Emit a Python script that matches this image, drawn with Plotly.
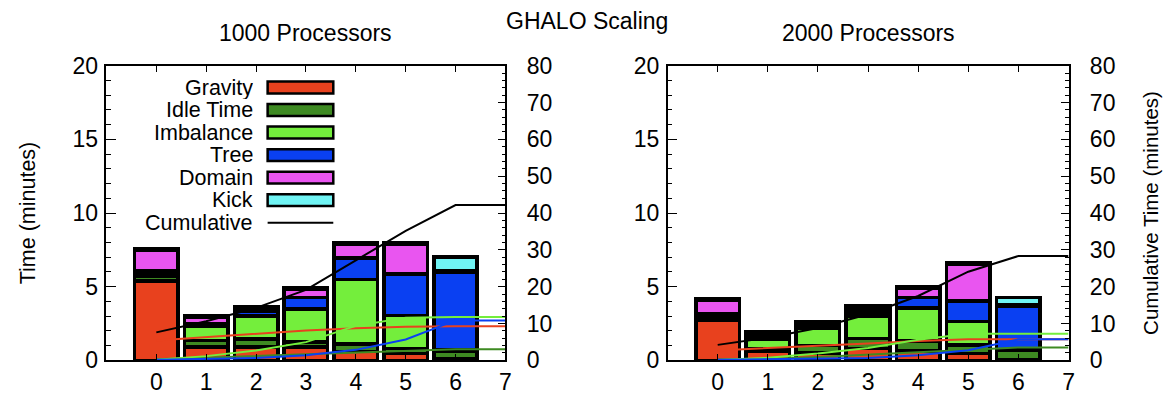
import numpy as np
import plotly.graph_objects as go
from plotly.subplots import make_subplots

# ---------------- data ----------------
steps = [0, 1, 2, 3, 4, 5, 6]
components = ["Gravity", "Idle Time", "Imbalance", "Tree", "Domain", "Kick"]
comp_colors = ["#E8411E", "#3E8A22", "#74EE3C", "#0A40F2", "#E955F0", "#70F4F4"]

# 1000 processors (minutes)
p1000_gravity = [5.4, 0.9, 0.9, 0.9, 0.6, 0.45, 0.1]
p1000_idle = [0.3, 0.45, 0.55, 0.35, 0.5, 0.35, 0.5]
p1000_imbalance = [0.2, 0.95, 1.55, 2.25, 4.4, 2.25, 0.15]
p1000_tree = [0.15, 0.2, 0.3, 0.75, 1.45, 2.8, 5.2]
p1000_domain = [1.45, 0.45, 0.15, 0.55, 0.95, 2.0, 0.1]
p1000_kick = [0.1, 0.05, 0.2, 0.1, 0.1, 0.15, 0.95]

# 2000 processors (minutes)
p2000_gravity = [2.7, 0.6, 0.5, 0.8, 0.65, 0.45, 0.05]
p2000_idle = [0.2, 0.2, 0.5, 0.7, 0.65, 0.6, 0.65]
p2000_imbalance = [0.1, 0.6, 1.15, 1.5, 2.25, 1.6, 0.05]
p2000_tree = [0.15, 0.15, 0.1, 0.27, 0.72, 1.37, 2.95]
p2000_domain = [0.95, 0.2, 0.2, 0.3, 0.6, 2.5, 0.05]
p2000_kick = [0.1, 0.18, 0.2, 0.15, 0.1, 0.08, 0.5]

x_ticks = [0, 1, 2, 3, 4, 5, 6, 7]
y_ticks_left = [0, 5, 10, 15, 20]
y_ticks_right = [0, 10, 20, 30, 40, 50, 60, 70, 80]

panels = [
    ("1000 Processors", [p1000_gravity, p1000_idle, p1000_imbalance, p1000_tree, p1000_domain, p1000_kick]),
    ("2000 Processors", [p2000_gravity, p2000_idle, p2000_imbalance, p2000_tree, p2000_domain, p2000_kick]),
]
cum_components = [0, 1, 2, 3]  # components that get a cumulative line

FONT = "Liberation Sans, Arial, Helvetica, sans-serif"
FS = 23
FS_KEY = 21.5
FS_AX = 21.5
FS_AX2 = 20.5

fig = make_subplots(rows=1, cols=2, specs=[[{"secondary_y": True}, {"secondary_y": True}]])

for col, (title, series) in enumerate(panels, start=1):
    for name, vals, c in zip(components, series, comp_colors):
        fig.add_trace(go.Bar(x=steps, y=vals, name=name, width=0.87,
                             marker=dict(color=c, line=dict(color="black", width=3.5)),
                             showlegend=False),
                      row=1, col=col, secondary_y=False)
    line_x = steps + [steps[-1] + 1]
    for i in cum_components:
        cum = list(np.cumsum(series[i]))
        fig.add_trace(go.Scatter(x=line_x, y=cum + [cum[-1]], mode="lines",
                                 line=dict(color=comp_colors[i], width=2), showlegend=False),
                      row=1, col=col, secondary_y=True)
    total = list(np.cumsum(np.sum(np.array(series), axis=0)))
    fig.add_trace(go.Scatter(x=line_x, y=total + [total[-1]], mode="lines",
                             line=dict(color="black", width=2), showlegend=False),
                  row=1, col=col, secondary_y=True)

W, H = 1176, 395
# the rendered page is compressed vertically; map target pixel rows to requested rows
def req_y(p): return (p - 11.9) / 0.939
def px_x(p): return p / W
def px_y(p): return (H - req_y(p)) / H

dom_y = [px_y(362), px_y(65)]
dom_x1 = [px_x(107), px_x(508)]
dom_x2 = [px_x(671), px_x(1074)]

axis_common = dict(showline=True, linecolor="black", linewidth=1.5, showgrid=False, zeroline=False,
                   tickfont=dict(family=FONT, size=FS, color="black"), ticks="inside",
                   tickcolor="black")

xa = dict(axis_common, range=[-1, 7], tickvals=x_ticks, ticklen=7, mirror="ticks")
yl = dict(axis_common, range=[0, 20], tickvals=y_ticks_left, ticklen=10, ticklabelstandoff=2,
          minor=dict(dtick=1, ticks="inside", ticklen=5, tickcolor="black"))
yr = dict(axis_common, range=[0, 80], tickvals=y_ticks_right, ticklen=8, ticklabelstandoff=15,
          minor=dict(dtick=2, ticks="inside", ticklen=4, tickcolor="black"))

fig.update_layout(
    width=W, height=H, margin=dict(l=0, r=0, t=0, b=0),
    paper_bgcolor="white", plot_bgcolor="white", barmode="stack", bargap=0.1,
    font=dict(family=FONT, size=FS, color="black"),
    xaxis=dict(xa, domain=dom_x1),
    xaxis2=dict(xa, domain=dom_x2),
    yaxis=dict(yl, domain=dom_y, title=dict(text="Time (minutes)", standoff=31,
                                            font=dict(size=FS_AX))),
    yaxis2=dict(yr, domain=dom_y),
    yaxis3=dict(yl, domain=dom_y),
    yaxis4=dict(yr, domain=dom_y, title=dict(text="Cumulative Time (minutes)", standoff=29,
                                             font=dict(size=FS_AX2))),
)

annotations = [
    dict(text="GHALO Scaling", x=px_x(590), y=px_y(20), xref="paper", yref="paper",
         showarrow=False, xanchor="center", yanchor="middle", font=dict(size=FS)),
    dict(text="1000 Processors", x=sum(dom_x1) / 2, y=px_y(32), xref="paper", yref="paper",
         showarrow=False, xanchor="center", yanchor="middle", font=dict(size=FS)),
    dict(text="2000 Processors", x=sum(dom_x2) / 2, y=px_y(32), xref="paper", yref="paper",
         showarrow=False, xanchor="center", yanchor="middle", font=dict(size=FS)),
]
shapes = []

# gnuplot-style key inside the left panel: text right-aligned, swatch on the right
key_text_right = (255 - 107) / 401
key_sw_left = (269 - 107) / 401
key_sw_right = (335 - 107) / 401
row_h = 22.7 / 297
key_top = (362 - 87) / 297
sw_h = 12 / 297
labels = components + ["Cumulative"]
for k, lab in enumerate(labels):
    yc = key_top - k * row_h
    annotations.append(dict(text=lab, x=key_text_right, y=yc, xref="x domain", yref="y domain",
                            showarrow=False, xanchor="right", yanchor="middle",
                            height=22, valign="middle", borderpad=0,
                            font=dict(size=FS_KEY)))
    if k < len(components):
        shapes.append(dict(type="rect", xref="x domain", yref="y domain",
                           x0=key_sw_left, x1=key_sw_right, y0=yc - sw_h / 2, y1=yc + sw_h / 2,
                           fillcolor=comp_colors[k], line=dict(color="black", width=2.5)))
    else:
        shapes.append(dict(type="line", xref="x domain", yref="y domain",
                           x0=key_sw_left, x1=key_sw_right, y0=yc, y1=yc,
                           line=dict(color="black", width=2)))

fig.update_layout(annotations=annotations, shapes=shapes)
fig.write_html("out.html")
